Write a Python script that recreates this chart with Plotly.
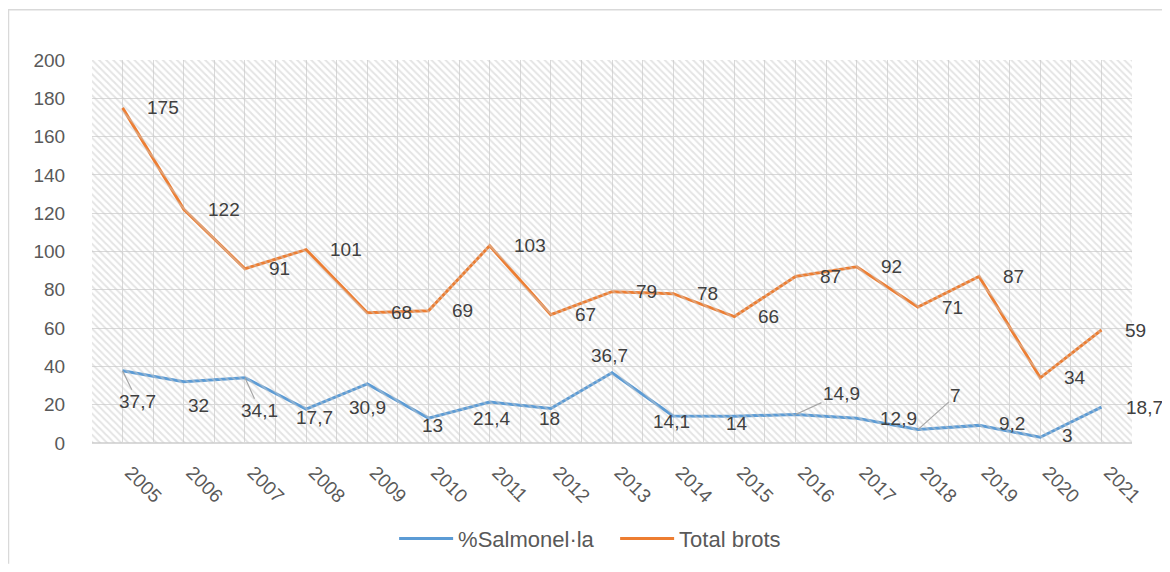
import plotly.graph_objects as go

years = ["2005", "2006", "2007", "2008", "2009", "2010", "2011", "2012", "2013",
         "2014", "2015", "2016", "2017", "2018", "2019", "2020", "2021"]
salmonella = [37.7, 32, 34.1, 17.7, 30.9, 13, 21.4, 18, 36.7, 14.1, 14, 14.9, 12.9, 7, 9.2, 3, 18.7]
total_brots = [175, 122, 91, 101, 68, 69, 103, 67, 79, 78, 66, 87, 92, 71, 87, 34, 59]

Y_MAX = 200
Y_STEP = 20

# label offsets (pixels, screen: dx right, dy down) for the % Salmonel·la labels
sal_offsets = [(15, 31), (15, 24), (15, 33), (8, 8), (0, 24), (4, 7), (2, 16), (-1, 10),
               (-3, -17), (-2, 5), (3, 7), (46, -21), (42, 0), (38, -34), (33, -2), (27, -2), (43, 0)]
sal_leader = [True, False, True, False, False, False, False, False,
              False, False, False, True, False, True, False, False, False]

BLUE = "#5B9BD5"
ORANGE = "#ED7D31"
GRID = "#d9d9d9"
TXT = "#595959"
LBL = "#404040"
FONT = "Liberation Sans"

fig = go.Figure()

# hatched plot-area background
fig.add_trace(go.Bar(
    x=years, y=[Y_MAX] * len(years), xaxis="x2", yaxis="y", width=1,
    marker=dict(color="rgba(0,0,0,0)", line=dict(width=0),
                pattern=dict(shape="\\", fgcolor="#cacaca", bgcolor="rgba(0,0,0,0)",
                             size=5, solidity=0.4)),
    showlegend=False, hoverinfo="skip"))

fig.add_trace(go.Scatter(x=years, y=salmonella, mode="lines", name="%Salmonel·la",
                         line=dict(color=BLUE, width=3)))
fig.add_trace(go.Scatter(x=years, y=total_brots, mode="lines", name="Total brots",
                         line=dict(color=ORANGE, width=3)))

def fmt(v):
    return ("%g" % v).replace(".", ",")

ann = []
for i, v in enumerate(total_brots):
    ann.append(dict(x=i, y=v, xref="x", yref="y", text=fmt(v), showarrow=False,
                    xanchor="left", yanchor="middle", xshift=22,
                    font=dict(family=FONT, size=19, color=LBL)))
for i, (v, (dx, dy), lead) in enumerate(zip(salmonella, sal_offsets, sal_leader)):
    ann.append(dict(x=i, y=v, xref="x", yref="y", text=fmt(v), showarrow=True,
                    ax=dx, ay=dy, arrowhead=0, arrowwidth=1.2, standoff=0,
                    arrowcolor="#a6a6a6" if lead else "rgba(0,0,0,0)",
                    xanchor="center", yanchor="middle",
                    font=dict(family=FONT, size=19, color=LBL)))

# page body has an 8px margin, so the figure starts at (8, 8)
W, H = 1162, 564
L, R, T, B = 84, 38, 52, 119
pw, ph = W - L - R, H - T - B
px = lambda p: (p - L) / pw
py = lambda p: (H - B - p) / ph
shapes = [
    dict(type="line", xref="paper", yref="paper", x0=px(0.5), x1=px(0.5), y0=py(0), y1=py(H + 5),
         line=dict(color="#d9d9d9", width=1.5)),
    dict(type="line", xref="paper", yref="paper", x0=px(0), x1=px(W + 5), y0=py(0.5), y1=py(0.5),
         line=dict(color="#d9d9d9", width=1.5)),
]

fig.update_layout(
    width=W, height=H,
    margin=dict(l=L, r=R, t=T, b=B),
    paper_bgcolor="white", plot_bgcolor="white",
    font=dict(family=FONT, size=19, color=TXT),
    annotations=ann, shapes=shapes,
    showlegend=True,
    legend=dict(orientation="h", x=0.503, xanchor="center", y=-0.25, yanchor="middle",
                itemwidth=54, entrywidth=152,
                font=dict(family=FONT, size=22, color=TXT), bgcolor="rgba(0,0,0,0)"),
    xaxis=dict(type="category", range=[-0.5, len(years) - 0.5], showgrid=True,
               gridcolor=GRID, gridwidth=1.3, tickangle=45, ticks="outside", ticklen=10,
               tickcolor="rgba(0,0,0,0)", showline=False, zeroline=False, ticklabelshift=8,
               tickfont=dict(family=FONT, size=19, color=TXT)),
    xaxis2=dict(type="category", overlaying="x", anchor="y", side="bottom",
                range=[-0.5, len(years) - 0.5], showgrid=True, gridcolor=GRID, gridwidth=1.3,
                tickson="boundaries", showticklabels=False, ticks="", showline=False,
                zeroline=False),
    yaxis=dict(range=[0, Y_MAX], dtick=Y_STEP, showgrid=True, gridcolor=GRID, gridwidth=1.3,
               zeroline=True, zerolinecolor=GRID, zerolinewidth=1.5, ticks="outside",
               ticklen=22, tickcolor="rgba(0,0,0,0)",
               tickfont=dict(family=FONT, size=19, color=TXT)),
    bargap=0,
)

fig.write_html("out.html")
